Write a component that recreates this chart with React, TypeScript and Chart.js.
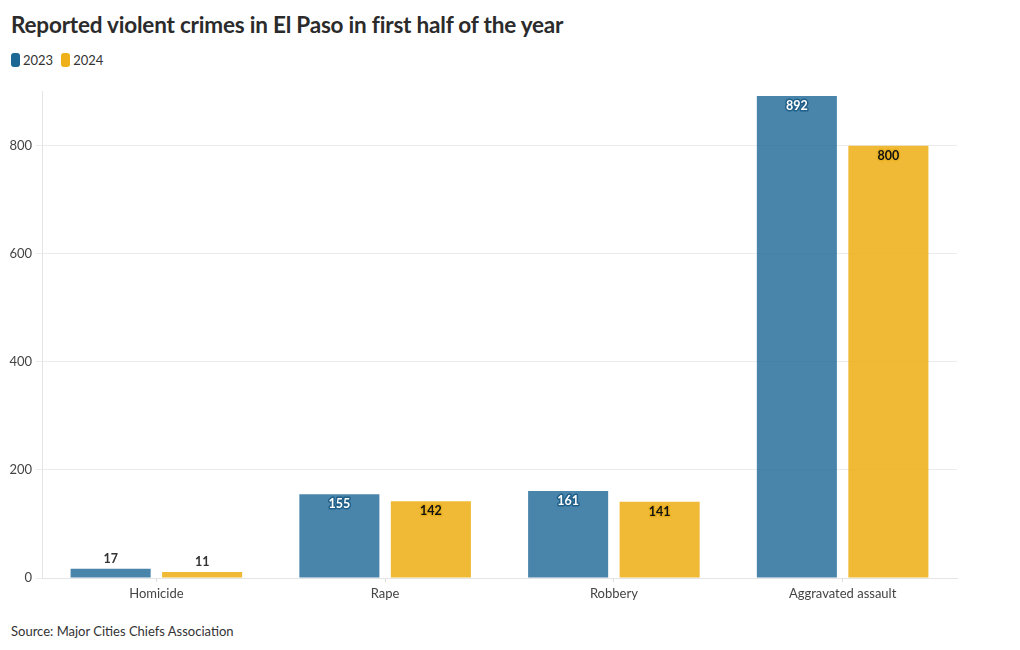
import React, { useEffect, useRef } from "react";
import { Chart, registerables } from "chart.js";

Chart.register(...registerables);

const title = "Reported violent crimes in El Paso in first half of the year";
const source = "Source: Major Cities Chiefs Association";
const categories = ["Homicide", "Rape", "Robbery", "Aggravated assault"];
const seriesNames = ["2023", "2024"];
const values2023 = [17, 155, 161, 892];
const values2024 = [11, 142, 141, 800];
const yTicks = [0, 200, 400, 600, 800];

const barColors = ["rgba(38,110,155,0.84)", "rgba(238,177,26,0.88)"];
const legendColors = ["#1d6794", "#eeb11a"];
const FONT = "Lato, 'Open Sans', sans-serif";

const labelPlugin = {
  id: "barLabels",
  afterDatasetsDraw(chart: any) {
    const ctx = chart.ctx;
    ctx.save();
    ctx.font = `bold 12.5px ${FONT}`;
    ctx.textAlign = "center";
    ctx.textBaseline = "middle";
    chart.data.datasets.forEach((ds: any, di: number) => {
      const meta = chart.getDatasetMeta(di);
      meta.data.forEach((bar: any, i: number) => {
        const v = ds.data[i];
        const h = bar.base - bar.y;
        const txt = String(v);
        if (h > 25) {
          const y = bar.y + 10;
          ctx.lineJoin = "round";
          ctx.lineWidth = 3;
          if (di === 0) {
            ctx.strokeStyle = "#1f5f88";
            ctx.strokeText(txt, bar.x, y);
            ctx.fillStyle = "#ffffff";
          } else {
            ctx.strokeStyle = "#e8b020";
            ctx.strokeText(txt, bar.x, y);
            ctx.fillStyle = "#111111";
          }
          ctx.fillText(txt, bar.x, y);
        } else {
          ctx.fillStyle = "#333333";
          ctx.fillText(txt, bar.x, bar.y - 10);
        }
      });
    });
    ctx.restore();
  },
};

export default function App() {
  const ref = useRef<HTMLCanvasElement | null>(null);
  useEffect(() => {
    if (!ref.current) return;
    const chart = new Chart(ref.current, {
      type: "bar",
      data: {
        labels: categories,
        datasets: [
          { label: seriesNames[0], data: values2023, backgroundColor: barColors[0] },
          { label: seriesNames[1], data: values2024, backgroundColor: barColors[1] },
        ],
      },
      options: {
        animation: false,
        responsive: false,
        maintainAspectRatio: false,
        layout: { padding: { top: 11, right: 55, left: 0, bottom: 0 } },
        datasets: { bar: { categoryPercentage: 0.8, barPercentage: 0.875 } },
        plugins: { legend: { display: false }, tooltip: { enabled: false }, title: { display: false } },
        scales: {
          x: {
            grid: { display: true, drawOnChartArea: false, color: "#dddddd", tickLength: 4, offset: false },
            border: { color: "#e4e4e4" },
            ticks: { color: "#444", font: { family: FONT, size: 13 }, padding: 4 },
            afterFit: (s: any) => { s.height = 32; },
          },
          y: {
            min: 0,
            max: 900,
            afterBuildTicks: (s: any) => { s.ticks = yTicks.map((v) => ({ value: v })); },
            grid: { color: "#ececec", tickLength: 6 },
            border: { color: "#e4e4e4" },
            ticks: { color: "#444", font: { family: FONT, size: 13 }, padding: 4 },
            afterFit: (s: any) => { s.width = 34; },
          },
        },
      },
      plugins: [labelPlugin],
    });
    return () => chart.destroy();
  }, []);

  return (
    <div style={{ position: "relative", width: 1004, height: 634, fontFamily: FONT, color: "#333" }}>
      <div style={{ position: "absolute", left: 3, top: 3, fontSize: 22.5, fontWeight: 700, color: "#2b2b2b", letterSpacing: -0.2 }}>
        {title}
      </div>
      <div style={{ position: "absolute", left: 3, top: 44, display: "flex", alignItems: "center", fontSize: 13, color: "#333" }}>
        {seriesNames.map((n, i) => (
          <div key={n} style={{ display: "flex", alignItems: "center", marginRight: 8 }}>
            <span style={{ display: "inline-block", width: 9, height: 14, borderRadius: 3, background: legendColors[i], marginRight: 3 }} />
            <span>{n}</span>
          </div>
        ))}
      </div>
      <canvas ref={ref} width={1004} height={530} style={{ position: "absolute", left: 0, top: 72, display: "block" }} />
      <div style={{ position: "absolute", left: 3, top: 615, fontSize: 13, color: "#333" }}>{source}</div>
    </div>
  );
}
